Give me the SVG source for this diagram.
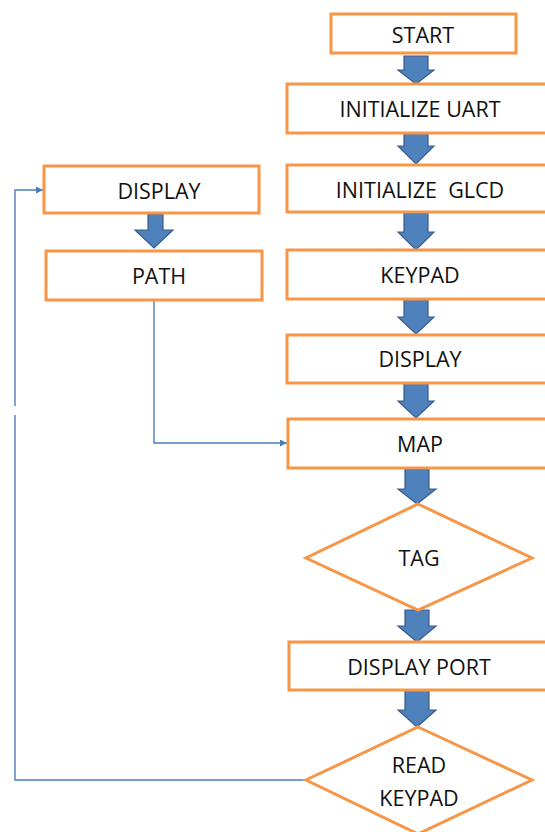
<svg xmlns="http://www.w3.org/2000/svg" width="545" height="832" viewBox="0 0 545 832">
<style>
.box{fill:#fff;stroke:#f79646;stroke-width:3}
.blk{fill:#4f81bd;stroke:#385d8a;stroke-width:1.2}
.lbl{font-family:"Open Sans","Liberation Sans",sans-serif;font-size:21.5px;fill:#111;text-anchor:middle;dominant-baseline:central}
.con{fill:none;stroke:#4a7ebb;stroke-width:1.4}
</style>
<defs>
<marker id="ah" viewBox="0 0 10 10" refX="10" refY="5" markerWidth="7" markerHeight="7" orient="auto" markerUnits="userSpaceOnUse">
<path d="M0,0 L10,5 L0,10 Z" fill="#4a7ebb"/>
</marker>
</defs>
<rect width="545" height="832" fill="#fff"/>
<g id="connectors">
<path class="con" d="M154,300 V443 H287" marker-end="url(#ah)"/>
<path class="con" d="M306,780 H15 V415"/>
<path class="con" d="M15,406 V190 H43" marker-end="url(#ah)"/>
<path class="blk" d="M404,56 H428 V70 H434 L416,84 L398,70 H404 Z"/>
<path class="blk" d="M404,132 H428 V146 H434 L416,164 L398,146 H404 Z"/>
<path class="blk" d="M404,213 H428 V232 H434 L416,250 L398,232 H404 Z"/>
<path class="blk" d="M404,299 H428 V317 H434 L416,334 L398,317 H404 Z"/>
<path class="blk" d="M404,383 H428 V401 H434 L416,418 L398,401 H404 Z"/>
<path class="blk" d="M405,469 H429 V489 H436 L417,504 L398,489 H405 Z"/>
<path class="blk" d="M405,610 H429 V626 H436 L417,642 L398,626 H405 Z"/>
<path class="blk" d="M405,690 H429 V710 H436 L417,727 L398,710 H405 Z"/>
<path class="blk" d="M148,214 H163 V230 H173 L154,248 L135,230 H148 Z"/>
</g>
<g id="start"><rect class="box" x="331" y="14" width="185" height="39"/><text class="lbl" x="423" y="34">START</text></g>
<g id="init-uart"><rect class="box" x="287" y="84" width="270" height="49"/><text class="lbl" x="420" y="108">INITIALIZE UART</text></g>
<g id="init-glcd"><rect class="box" x="287" y="165" width="270" height="47"/><text class="lbl" x="420" y="189" xml:space="preserve">INITIALIZE  GLCD</text></g>
<g id="keypad"><rect class="box" x="287" y="250" width="270" height="49"/><text class="lbl" x="420" y="274">KEYPAD</text></g>
<g id="display"><rect class="box" x="287" y="335" width="270" height="48"/><text class="lbl" x="420" y="358">DISPLAY</text></g>
<g id="map"><rect class="box" x="288" y="419" width="270" height="49"/><text class="lbl" x="420" y="443">MAP</text></g>
<g id="tag"><polygon class="box" points="418,504 532,558 418,610 306,558"/><text class="lbl" x="419" y="557">TAG</text></g>
<g id="display-port"><rect class="box" x="289" y="642" width="270" height="48"/><text class="lbl" x="419" y="666">DISPLAY PORT</text></g>
<g id="read-keypad"><polygon class="box" points="418,727 532,780 418,834 306,780"/><text class="lbl" x="419" y="764">READ</text><text class="lbl" x="419" y="797">KEYPAD</text></g>
<g id="display-left"><rect class="box" x="44" y="166" width="215" height="47"/><text class="lbl" x="159" y="190">DISPLAY</text></g>
<g id="path"><rect class="box" x="46" y="251" width="216" height="49"/><text class="lbl" x="159" y="275">PATH</text></g>
</svg>
